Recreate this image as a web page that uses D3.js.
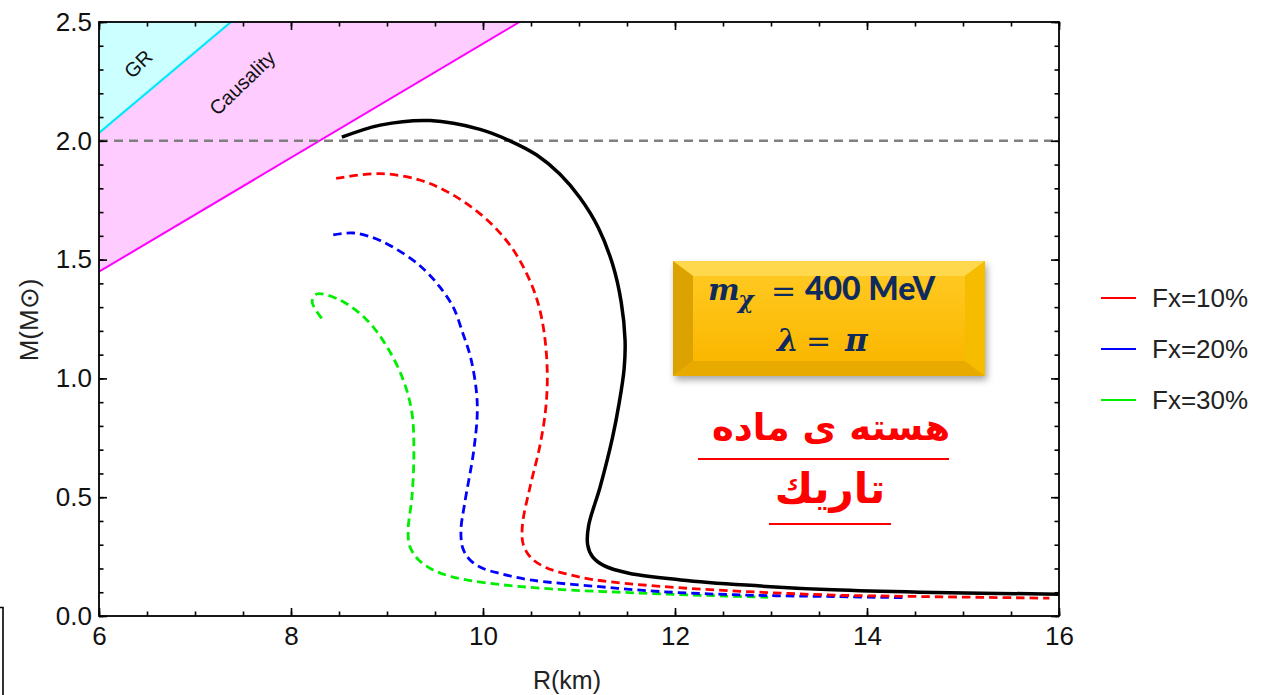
<!DOCTYPE html>
<html>
<head>
<meta charset="utf-8">
<script src="https://cdn.jsdelivr.net/npm/d3@7"></script>
<style>
  html, body { margin: 0; padding: 0; background: #fff; }
  svg { display: block; }
</style>
</head>
<body>
<svg id="chart" width="1273" height="695" font-family="'Liberation Sans', Arial, sans-serif"></svg>
<script>
// ---- Mass–radius data (R in km, M in solar masses) ----
// Pure nuclear-matter star (solid black)
const nsR = [8.53, 8.93, 9.45, 9.97, 10.28, 10.56, 10.80, 11.01, 11.20, 11.35, 11.44, 11.48, 11.47, 11.42, 11.35, 11.22, 11.10, 11.09, 11.14, 11.26, 11.52, 12.06, 12.74, 13.65, 14.55, 16.00];
const nsM = [2.015, 2.066, 2.085, 2.048, 2.000, 1.940, 1.860, 1.760, 1.635, 1.480, 1.320, 1.160, 1.040, 0.900, 0.753, 0.543, 0.380, 0.300, 0.250, 0.212, 0.180, 0.152, 0.130, 0.110, 0.100, 0.092];
// Dark-matter admixed stars
const fx10R = [8.47, 8.93, 9.34, 9.63, 9.90, 10.12, 10.30, 10.42, 10.53, 10.60, 10.65, 10.67, 10.65, 10.59, 10.49, 10.41, 10.42, 10.50, 10.65, 10.88, 11.17, 11.84, 12.74, 13.65, 14.55, 15.90];
const fx10M = [1.842, 1.862, 1.835, 1.785, 1.715, 1.637, 1.550, 1.469, 1.370, 1.275, 1.150, 1.000, 0.860, 0.711, 0.543, 0.380, 0.300, 0.245, 0.205, 0.176, 0.152, 0.125, 0.103, 0.088, 0.082, 0.075];
const fx20R = [8.44, 8.65, 8.93, 9.27, 9.42, 9.55, 9.69, 9.79, 9.87, 9.93, 9.94, 9.90, 9.81, 9.77, 9.79, 9.86, 9.99, 10.19, 10.49, 11.17, 11.84, 12.74, 13.65, 14.38];
const fx20M = [1.604, 1.612, 1.580, 1.498, 1.445, 1.385, 1.300, 1.190, 1.090, 0.950, 0.850, 0.686, 0.476, 0.360, 0.285, 0.238, 0.202, 0.178, 0.152, 0.125, 0.103, 0.088, 0.082, 0.077];
const fx30R = [8.32, 8.22, 8.27, 8.51, 8.79, 9.00, 9.17, 9.26, 9.28, 9.26, 9.22, 9.24, 9.33, 9.47, 9.67, 10.04, 10.71, 11.61, 12.52, 12.97];
const fx30M = [1.253, 1.323, 1.355, 1.330, 1.246, 1.133, 0.993, 0.854, 0.686, 0.502, 0.360, 0.290, 0.236, 0.196, 0.166, 0.139, 0.114, 0.097, 0.084, 0.079];

// Constraint boundaries (endpoints inside the frame)
const grR = [6.0, 7.375], grM = [2.033, 2.5];
const causalR = [6.0, 10.38], causalM = [1.449, 2.5];
const twoSolar = 2.0;

// Axes
const xDomain = [6, 16], yDomain = [0, 2.5];
const xMajor = [6, 8, 10, 12, 14, 16];
const xMinor = d3.range(6, 16.01, 0.5);
const yMajor = [0, 0.5, 1.0, 1.5, 2.0, 2.5];
const yMinor = d3.range(0, 2.501, 0.1);

// Legend
const legendNames = ["Fx=10%", "Fx=20%", "Fx=30%"];
const legendColors = ["#ff0000", "#0000ff", "#00ee00"];

// ---- Drawing ----
const svg = d3.select("#chart");
const L = 99, R = 1059, T = 22, B = 616;
const x = d3.scaleLinear().domain(xDomain).range([L, R]);
const y = d3.scaleLinear().domain(yDomain).range([B, T]);

const defs = svg.append("defs");
defs.append("clipPath").attr("id", "plotClip")
  .append("rect").attr("x", L).attr("y", T).attr("width", R - L).attr("height", B - T);

// Forbidden regions
const regions = svg.append("g").attr("clip-path", "url(#plotClip)");
// causality band: between the GR line and the causality line
regions.append("path")
  .attr("d", d3.line()([
    [x(causalR[0]), y(causalM[0])], [x(causalR[1]), y(causalM[1])],
    [x(grR[1]), y(grM[1])], [x(grR[0]), y(grM[0])]
  ]) + "Z")
  .attr("fill", "#ffccff");
// GR region: above the Schwarzschild line
regions.append("path")
  .attr("d", d3.line()([
    [x(grR[0]), y(grM[0])], [x(grR[1]), y(grM[1])], [x(xDomain[0]), y(yDomain[1])]
  ]) + "Z")
  .attr("fill", "#ccffff");
regions.append("line")
  .attr("x1", x(causalR[0])).attr("y1", y(causalM[0]))
  .attr("x2", x(causalR[1])).attr("y2", y(causalM[1]))
  .attr("stroke", "#ff00ff").attr("stroke-width", 2);
regions.append("line")
  .attr("x1", x(grR[0])).attr("y1", y(grM[0]))
  .attr("x2", x(grR[1])).attr("y2", y(grM[1]))
  .attr("stroke", "#00e8ff").attr("stroke-width", 2.2);

// region labels, rotated along the boundaries
svg.append("text").attr("transform", "translate(143,69) rotate(-44)")
  .attr("text-anchor", "middle").attr("font-size", 20).attr("fill", "#111").text("GR");
svg.append("text").attr("transform", "translate(247,88) rotate(-44)")
  .attr("text-anchor", "middle").attr("font-size", 20).attr("fill", "#111").text("Causality");

// 2 M_sun reference
svg.append("line")
  .attr("x1", L).attr("x2", R).attr("y1", y(twoSolar)).attr("y2", y(twoSolar))
  .attr("stroke", "#7f7f7f").attr("stroke-width", 2.5).attr("stroke-dasharray", "9,6");

// Curves
const curve = d3.line().x(d => x(d[0])).y(d => y(d[1])).curve(d3.curveCatmullRom.alpha(0.5));
const zip = (a, b) => a.map((v, i) => [v, b[i]]);
const curves = svg.append("g").attr("clip-path", "url(#plotClip)").attr("fill", "none");
curves.append("path").attr("d", curve(zip(fx30R, fx30M)))
  .attr("stroke", legendColors[2]).attr("stroke-width", 2.8).attr("stroke-dasharray", "8.5,5");
curves.append("path").attr("d", curve(zip(fx20R, fx20M)))
  .attr("stroke", legendColors[1]).attr("stroke-width", 2.8).attr("stroke-dasharray", "8.5,5");
curves.append("path").attr("d", curve(zip(fx10R, fx10M)))
  .attr("stroke", legendColors[0]).attr("stroke-width", 2.8).attr("stroke-dasharray", "8.5,5");
curves.append("path").attr("d", curve(zip(nsR, nsM)))
  .attr("stroke", "#000").attr("stroke-width", 3.5);

// Frame and inward ticks on all four sides
const axes = svg.append("g");
function tickAxis(axisFn, scale, values, size, labels, pad) {
  return axisFn(scale).tickValues(values).tickSizeInner(-size).tickSizeOuter(0)
    .tickPadding(pad || 6).tickFormat(labels ? labels : () => "");
}
const gB = axes.append("g").attr("transform", `translate(0,${B})`);
gB.call(tickAxis(d3.axisBottom, x, xMinor, 4.5));
gB.append("g").call(tickAxis(d3.axisBottom, x, xMajor, 8, d3.format("d"), 11));
const gT = axes.append("g").attr("transform", `translate(0,${T})`);
gT.call(tickAxis(d3.axisTop, x, xMinor, 4.5));
gT.append("g").call(tickAxis(d3.axisTop, x, xMajor, 8));
const gL = axes.append("g").attr("transform", `translate(${L},0)`);
gL.call(tickAxis(d3.axisLeft, y, yMinor, 4.5));
gL.append("g").call(tickAxis(d3.axisLeft, y, yMajor, 8, d3.format(".1f"), 7));
const gR = axes.append("g").attr("transform", `translate(${R},0)`);
gR.call(tickAxis(d3.axisRight, y, yMinor, 4.5));
gR.append("g").call(tickAxis(d3.axisRight, y, yMajor, 8));
axes.selectAll(".domain").remove();
axes.selectAll(".tick line").attr("stroke", "#000").attr("stroke-width", 1.6);
axes.selectAll(".tick text").attr("fill", "#111")
  .attr("font-family", "'Liberation Sans', Arial, sans-serif").attr("font-size", 26);
svg.append("rect").attr("x", L).attr("y", T).attr("width", R - L).attr("height", B - T)
  .attr("fill", "none").attr("stroke", "#000").attr("stroke-width", 1.8);

// Axis titles
svg.append("text").attr("x", 567).attr("y", 689).attr("text-anchor", "middle")
  .attr("font-size", 25).attr("fill", "#222").text("R(km)");
svg.append("text").attr("transform", "translate(38,320) rotate(-90)").attr("text-anchor", "middle")
  .attr("font-size", 26).attr("fill", "#222").text("M(M\u2299)");

// Legend
const lg = svg.append("g");
legendNames.forEach((name, i) => {
  const ly = 298 + i * 51;
  lg.append("line").attr("x1", 1101).attr("x2", 1136).attr("y1", ly).attr("y2", ly)
    .attr("stroke", legendColors[i]).attr("stroke-width", 2);
  lg.append("text").attr("x", 1152).attr("y", ly).attr("dy", "0.35em")
    .attr("font-size", 26).attr("fill", "#222").text(name);
});

// Parameter box (bevelled gold panel)
const f = defs.append("filter").attr("id", "shadow").attr("x", "-10%").attr("y", "-10%")
  .attr("width", "125%").attr("height", "140%");
f.append("feDropShadow").attr("dx", 2).attr("dy", 4).attr("stdDeviation", 3.5)
  .attr("flood-color", "#000").attr("flood-opacity", 0.35);
const gg = defs.append("linearGradient").attr("id", "gold").attr("x1", 0).attr("y1", 0).attr("x2", 0).attr("y2", 1);
gg.append("stop").attr("offset", "0%").attr("stop-color", "#ffc820");
gg.append("stop").attr("offset", "100%").attr("stop-color", "#fbb700");
const bx0 = 673, by0 = 261, bx1 = 985, by1 = 376, bw = 20, bh = 15;
const box = svg.append("g");
box.append("rect").attr("x", bx0).attr("y", by0).attr("width", bx1 - bx0).attr("height", by1 - by0)
  .attr("fill", "#ffc000").attr("filter", "url(#shadow)");
const poly = (pts, fill) => box.append("path").attr("d", d3.line()(pts) + "Z").attr("fill", fill);
poly([[bx0, by0], [bx1, by0], [bx1 - bw, by0 + bh], [bx0 + bw, by0 + bh]], "#ffd84d");
poly([[bx0, by0], [bx0 + bw, by0 + bh], [bx0 + bw, by1 - bh], [bx0, by1]], "#dca200");
poly([[bx1, by0], [bx1, by1], [bx1 - bw, by1 - bh], [bx1 - bw, by0 + bh]], "#f6bd00");
poly([[bx0, by1], [bx0 + bw, by1 - bh], [bx1 - bw, by1 - bh], [bx1, by1]], "#e9aa00");
box.append("rect").attr("x", bx0 + bw).attr("y", by0 + bh)
  .attr("width", bx1 - bx0 - 2 * bw).attr("height", by1 - by0 - 2 * bh).attr("fill", "url(#gold)");

const navy = "#0f2a5c";
const serif = "'DejaVu Serif', serif";
const piece = (px, py, str, size, family, italic, weight) =>
  box.append("text").attr("x", px).attr("y", py).attr("fill", navy)
    .attr("font-family", family).attr("font-size", size)
    .attr("font-style", italic ? "italic" : "normal")
    .attr("font-weight", weight || "bold").text(str);
// m_chi = 400 MeV
piece(708, 300, "m", 30, serif, true);
piece(738, 308, "\u03c7", 24, serif, true);
piece(771, 301, "=", 30, serif, false, "normal");
piece(805, 300, "400 MeV", 32, "Lato, 'Open Sans', sans-serif", false, 900);
// lambda = pi
piece(777, 351, "\u03bb", 31, serif, true);
piece(806, 351, "=", 30, serif, false, "normal");
piece(845, 351, "\u03c0", 31, serif, true);

// Persian caption: "dark matter core"
const cap = svg.append("g").attr("fill", "#ff0000");
cap.append("text").attr("x", 831).attr("y", 440).attr("text-anchor", "middle")
  .attr("font-family", "'DejaVu Sans', sans-serif").attr("font-weight", "bold").attr("font-size", 37)
  .attr("direction", "rtl").text("هسته ی ماده");
cap.append("line").attr("x1", 698).attr("x2", 949).attr("y1", 459).attr("y2", 459)
  .attr("stroke", "#ff0000").attr("stroke-width", 2.2);
cap.append("text").attr("x", 830).attr("y", 503).attr("text-anchor", "middle")
  .attr("font-family", "'DejaVu Sans', sans-serif").attr("font-weight", "bold").attr("font-size", 42)
  .attr("direction", "rtl").text("تاریك");
cap.append("line").attr("x1", 769).attr("x2", 891).attr("y1", 524).attr("y2", 524)
  .attr("stroke", "#ff0000").attr("stroke-width", 2.2);

// bracket mark at lower-left edge
svg.append("path").attr("d", "M0,607.5H3V695").attr("fill", "none")
  .attr("stroke", "#000").attr("stroke-width", 1.6);
</script>
</body>
</html>
